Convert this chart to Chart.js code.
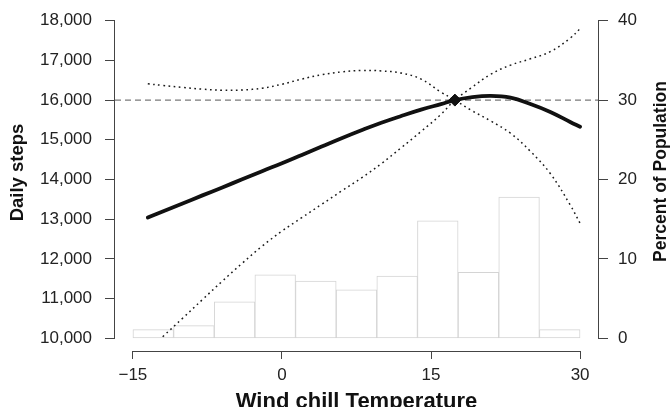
<!DOCTYPE html>
<html lang="en">
<head>
    <meta charset="utf-8">
    <title>Daily steps by wind chill temperature</title>
    <script src="https://cdn.jsdelivr.net/npm/chart.js"></script>
    <style>
        html, body { margin: 0; padding: 0; background: #fff; }
        .chart-box { width: 672px; height: 407px; position: relative; }
    </style>
</head>
<body>
    <div class="chart-box">
        <canvas id="stepsChart"></canvas>
    </div>

    <script>
        // Wind chill temperature grid for the fitted curve and its bands
        const tempGrid = [-13.5, -12, -10, -8, -6, -4, -2, 0, 2, 4, 6, 8, 10, 12, 14, 16, 17.4, 19, 21, 23, 25, 27, 29, 30];
        const stepsFit = [13040, 13195, 13395, 13600, 13800, 14005, 14210, 14410, 14620, 14830, 15040, 15240, 15430, 15600, 15760, 15900, 16000, 16070, 16105, 16060, 15900, 15700, 15450, 15330];
        // dotted bands: one falls through the reference point, the other rises through it
        const bandFalling = [16410, 16370, 16320, 16275, 16250, 16255, 16300, 16400, 16530, 16640, 16710, 16745, 16735, 16680, 16530, 16200, 16000, 15750, 15475, 15165, 14710, 14150, 13360, 12895];
        const bandRising = [null, 10040, 10505, 10975, 11440, 11890, 12320, 12700, 13040, 13375, 13710, 14040, 14400, 14800, 15210, 15640, 16000, 16300, 16650, 16880, 17040, 17220, 17560, 17800];

        // reference point (diamond) and the dashed line through it
        const refTemp = 17.4;
        const refSteps = 16000;

        // histogram: percent of population per temperature bin
        const binCenters = [-12.95, -8.86, -4.77, -0.68, 3.41, 7.5, 11.59, 15.68, 19.77, 23.86, 27.95];
        const binPercent = [1.1, 1.6, 4.6, 8.0, 7.2, 6.1, 7.85, 14.8, 8.3, 17.8, 1.1];

        // axis ticks and ranges
        const tempTicks = [-15, 0, 15, 30];
        const stepTicks = [10000, 11000, 12000, 13000, 14000, 15000, 16000, 17000, 18000];
        const pctTicks = [0, 10, 20, 30, 40];
        const tempRange = [-16.8, 31.8];
        const stepRange = [9680, 18320];
        const pctRange = [-1.6, 41.6];

        const FONT = "'Liberation Sans', Arial, Helvetica, sans-serif";
        const AXIS_COLOR = '#444';

        function toPoints(xs, ys) {
            return xs.map((x, i) => ({ x: x, y: ys[i] })).filter(p => p.y !== null);
        }

        function setTicks(values) {
            return scale => { scale.ticks = values.map(v => ({ value: v })); };
        }

        // fixed box size, and no extra room for labels hanging past the ends
        function fitBox(size) {
            return scale => {
                if (scale.isHorizontal()) scale.height = size;
                else scale.width = size;
                scale.paddingTop = 0;
                scale.paddingBottom = 0;
                scale.paddingLeft = 0;
                scale.paddingRight = 0;
            };
        }

        function sideTitle(ctx, text, x, y, size) {
            ctx.save();
            ctx.translate(x, y);
            ctx.rotate(-Math.PI / 2); // both side titles read bottom to top
            ctx.font = 'bold ' + size + 'px ' + FONT;
            ctx.fillStyle = '#111';
            ctx.textAlign = 'center';
            ctx.textBaseline = 'middle';
            ctx.fillText(text, 0, 0);
            ctx.restore();
        }

        // R-style axis lines that only span the first to last tick, plus side titles
        const axisLines = {
            id: 'axisLines',
            afterDraw(chart) {
                const { ctx, chartArea, scales } = chart;
                const left = Math.round(chartArea.left) - 0.5;
                const right = Math.round(chartArea.right) + 0.5;
                const bottom = Math.round(chartArea.bottom) + 0.5;
                ctx.save();
                ctx.strokeStyle = AXIS_COLOR;
                ctx.lineWidth = 1;
                ctx.beginPath();
                ctx.moveTo(left, scales.y.getPixelForValue(stepTicks[stepTicks.length - 1]));
                ctx.lineTo(left, scales.y.getPixelForValue(stepTicks[0]));
                ctx.moveTo(right, scales.y2.getPixelForValue(pctTicks[pctTicks.length - 1]));
                ctx.lineTo(right, scales.y2.getPixelForValue(pctTicks[0]));
                ctx.moveTo(scales.x.getPixelForValue(tempTicks[0]), bottom);
                ctx.lineTo(scales.x.getPixelForValue(tempTicks[tempTicks.length - 1]), bottom);
                ctx.stroke();
                ctx.restore();

                const midY = (chartArea.top + chartArea.bottom) / 2 - 7;
                sideTitle(ctx, 'Daily steps', scales.y.left + 18, midY, 18.5);
                sideTitle(ctx, 'Percent of Population', scales.y2.right - 10.5, midY - 1, 17.5);
            }
        };

        const ctx = document.getElementById('stepsChart').getContext('2d');
        new Chart(ctx, {
            type: 'bar',
            data: {
                datasets: [
                    {
                        type: 'scatter',
                        data: [{ x: refTemp, y: refSteps }],
                        yAxisID: 'y',
                        pointStyle: 'rectRot',
                        pointRadius: 6,
                        backgroundColor: '#111',
                        borderColor: '#111',
                        order: 0
                    },
                    {
                        type: 'line',
                        data: toPoints(tempGrid, stepsFit),
                        yAxisID: 'y',
                        borderColor: '#111',
                        borderWidth: 3.8,
                        pointRadius: 0,
                        tension: 0.4,
                        borderCapStyle: 'round',
                        order: 1
                    },
                    {
                        type: 'line',
                        data: toPoints(tempGrid, bandFalling),
                        yAxisID: 'y',
                        borderColor: '#1a1a1a',
                        borderWidth: 1.5,
                        borderDash: [1.7, 3.5],
                        pointRadius: 0,
                        tension: 0.4,
                        order: 2
                    },
                    {
                        type: 'line',
                        data: toPoints(tempGrid, bandRising),
                        yAxisID: 'y',
                        borderColor: '#1a1a1a',
                        borderWidth: 1.5,
                        borderDash: [1.7, 3.5],
                        pointRadius: 0,
                        tension: 0.4,
                        order: 2
                    },
                    {
                        type: 'line',
                        data: toPoints(tempRange, [refSteps, refSteps]),
                        yAxisID: 'y',
                        borderColor: '#7a7a7a',
                        borderWidth: 1.3,
                        borderDash: [6, 4],
                        pointRadius: 0,
                        order: 3
                    },
                    {
                        type: 'bar',
                        data: toPoints(binCenters, binPercent),
                        yAxisID: 'y2',
                        backgroundColor: '#ffffff',
                        borderColor: '#d4d4d4',
                        borderWidth: 1,
                        borderSkipped: false,
                        barPercentage: 1.0,
                        categoryPercentage: 1.0,
                        order: 5
                    }
                ]
            },
            options: {
                responsive: true,
                maintainAspectRatio: false,
                animation: false,
                layout: { padding: { top: 8, left: 0, right: 0, bottom: 0 } },
                plugins: {
                    legend: { display: false },
                    tooltip: { enabled: false }
                },
                scales: {
                    x: {
                        type: 'linear',
                        position: 'bottom',
                        min: tempRange[0],
                        max: tempRange[1],
                        offset: false,
                        afterBuildTicks: setTicks(tempTicks),
                        afterFit: fitBox(56),
                        border: { display: false },
                        grid: { offset: false, drawOnChartArea: false, drawTicks: true, tickLength: 8, color: AXIS_COLOR },
                        ticks: {
                            padding: 6,
                            color: '#222',
                            font: { family: FONT, size: 17 },
                            callback: v => v < 0 ? '\u2212' + Math.abs(v) : String(v)
                        },
                        title: {
                            display: true,
                            text: 'Wind chill Temperature',
                            color: '#111',
                            padding: { top: 0, bottom: 0 },
                            font: { family: FONT, size: 22, weight: 'bold', lineHeight: 0.5 }
                        }
                    },
                    y: {
                        type: 'linear',
                        position: 'left',
                        min: stepRange[0],
                        max: stepRange[1],
                        afterBuildTicks: setTicks(stepTicks),
                        afterFit: fitBox(115),
                        border: { display: false },
                        grid: { drawOnChartArea: false, drawTicks: true, tickLength: 10, color: AXIS_COLOR },
                        ticks: {
                            padding: 13,
                            color: '#222',
                            font: { family: FONT, size: 17 },
                            callback: v => v.toLocaleString('en-US')
                        }
                    },
                    y2: {
                        type: 'linear',
                        position: 'right',
                        min: pctRange[0],
                        max: pctRange[1],
                        afterBuildTicks: setTicks(pctTicks),
                        afterFit: fitBox(74),
                        border: { display: false },
                        grid: { drawOnChartArea: false, drawTicks: true, tickLength: 10, color: AXIS_COLOR },
                        ticks: {
                            padding: 10,
                            color: '#222',
                            font: { family: FONT, size: 17 }
                        }
                    }
                }
            },
            plugins: [axisLines]
        });
    </script>
</body>
</html>
